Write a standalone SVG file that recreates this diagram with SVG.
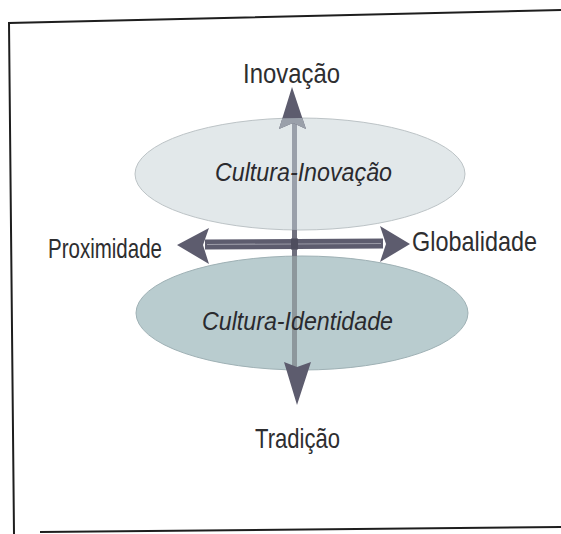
<svg xmlns="http://www.w3.org/2000/svg" width="561" height="534" viewBox="0 0 561 534">
  <style>
    .lbl { font-family: "Liberation Sans", Arial, sans-serif; font-size: 28px; fill: #2e2e30; }
    .in { font-family: "Liberation Sans", Arial, sans-serif; font-size: 25px; font-style: italic; fill: #2a2a2e; }
    .dark { fill: #5d5c6e; }
    .light { fill: #9aa0aa; }
  </style>
  <defs>
    <clipPath id="cUp"><ellipse cx="300" cy="174" rx="165" ry="56"/></clipPath>
    <clipPath id="cLo"><ellipse cx="302" cy="313" rx="166" ry="57"/></clipPath>
  </defs>
  <rect width="561" height="534" fill="#ffffff"/>
  <g id="frame" fill="none" stroke="#1e1e1e" stroke-width="2">
    <path d="M561,10 L9,23 L14,534"/>
    <path d="M40,532 L561,527"/>
  </g>
  <g id="culturaInovacao">
    <ellipse cx="300" cy="174" rx="165" ry="56" fill="#e2e8ea" stroke="#bcc3c6" stroke-width="1"/>
  </g>
  <g id="culturaIdentidade">
    <ellipse cx="302" cy="313" rx="166" ry="57" fill="#b9cccf" stroke="#9fb1b5" stroke-width="1"/>
  </g>
  <g id="connectors">
    <!-- vertical axis -->
    <rect x="292" y="120" width="5" height="248" fill="#70707e"/>
    <rect x="292" y="120" width="5" height="248" class="light" clip-path="url(#cUp)"/>
    <rect x="292" y="120" width="5" height="248" fill="#8d979c" clip-path="url(#cLo)"/>
    <polygon class="dark" points="292,87 279,129 293,123 306,129"/>
    <g clip-path="url(#cUp)"><polygon class="light" points="292,87 279,129 293,123 306,129"/></g>
    <polygon class="dark" points="284,362 297,367 311,362 297,405"/>
    <!-- horizontal axis -->
    <polygon class="dark" points="205,239.5 383,238.5 383,248.5 205,249.5"/>
    <line x1="207" y1="244.5" x2="381" y2="243.5" stroke="#9a9aa6" stroke-width="1.2"/>
    <polygon class="dark" points="177,245 209,228 203,245 209,264"/>
    <polygon class="dark" points="410,244 380,226 386,244 380,262"/>
    <rect x="291" y="238.5" width="7" height="11" fill="#4e4d5e"/>
  </g>
  <g id="labels">
    <text class="lbl" x="243" y="83" textLength="97" lengthAdjust="spacingAndGlyphs">Inovação</text>
    <text class="lbl" x="48" y="258" textLength="114" lengthAdjust="spacingAndGlyphs">Proximidade</text>
    <text class="lbl" x="412" y="251" textLength="125" lengthAdjust="spacingAndGlyphs">Globalidade</text>
    <text class="lbl" x="255" y="448" textLength="85" lengthAdjust="spacingAndGlyphs">Tradição</text>
    <text class="in" x="215" y="181" textLength="177" lengthAdjust="spacingAndGlyphs">Cultura-Inovação</text>
    <text class="in" x="202" y="330" textLength="191" lengthAdjust="spacingAndGlyphs">Cultura-Identidade</text>
  </g>
</svg>
